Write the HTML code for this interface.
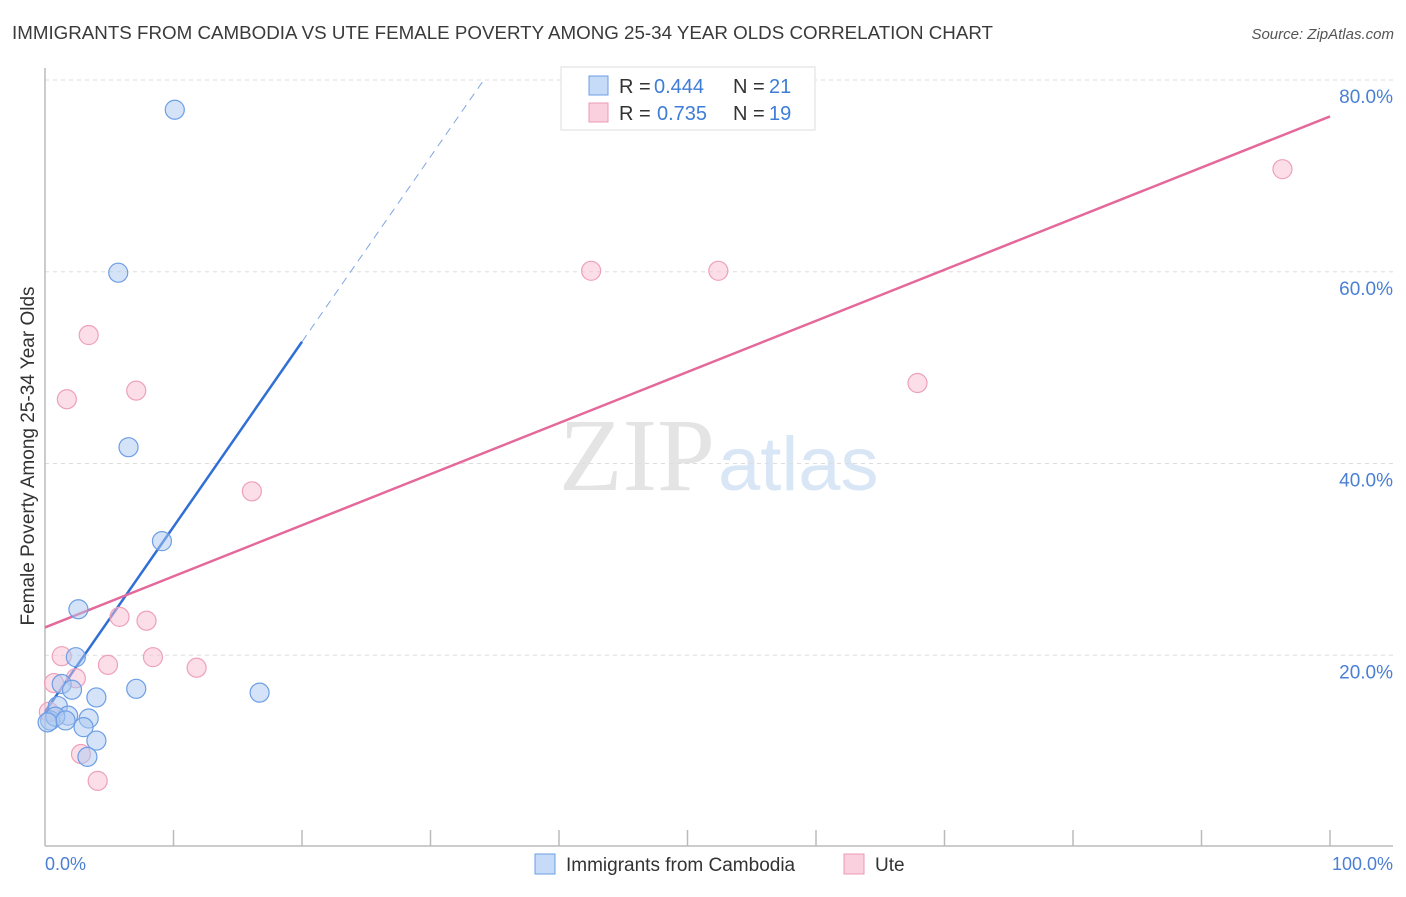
<!DOCTYPE html>
<html><head><meta charset="utf-8"><style>
body{margin:0;background:#fff;font-family:"Liberation Sans",sans-serif}
</style></head><body>
<svg width="1406" height="892" xmlns="http://www.w3.org/2000/svg" font-family="Liberation Sans, sans-serif">
<text x="12" y="39" font-size="18" fill="#3a3a3a" textLength="981" lengthAdjust="spacingAndGlyphs">IMMIGRANTS FROM CAMBODIA VS UTE FEMALE POVERTY AMONG 25-34 YEAR OLDS CORRELATION CHART</text>
<text x="1394" y="39" font-size="15" fill="#555" font-style="italic" text-anchor="end">Source: ZipAtlas.com</text>
<text x="715" y="490" font-size="104" fill="#e4e4e4" text-anchor="end" font-family="Liberation Serif, serif">ZIP</text>
<text x="718" y="490" font-size="76" fill="#d8e6f6">atlas</text>
<g id="grid"></g>
<g id="axes"></g>
<g id="lines"></g>
<g id="pts"></g>
<text transform="translate(34,456) rotate(-90)" font-size="19" fill="#333" text-anchor="middle">Female Poverty Among 25-34 Year Olds</text>
<text x="45" y="870" font-size="18" fill="#4a7fd4">0.0%</text>
<text x="1393" y="870" font-size="18" fill="#4a7fd4" text-anchor="end">100.0%</text>
<g>
<rect x="561" y="67" width="254" height="63" fill="#fff" stroke="#ddd"/>
<rect x="589" y="76" width="19" height="19" fill="#c5dbf7" stroke="#6d9ee6"/>
<rect x="589" y="103" width="19" height="19" fill="#fbd0de" stroke="#ee99b6"/>
<text x="619" y="93" font-size="20" fill="#333">R =</text>
<text x="654" y="93" font-size="20" fill="#3d7dd8">0.444</text>
<text x="733" y="93" font-size="20" fill="#333">N =</text>
<text x="769" y="93" font-size="20" fill="#3d7dd8">21</text>
<text x="619" y="120" font-size="20" fill="#333">R =</text>
<text x="657" y="120" font-size="20" fill="#3d7dd8">0.735</text>
<text x="733" y="120" font-size="20" fill="#333">N =</text>
<text x="769" y="120" font-size="20" fill="#3d7dd8">19</text>
</g>
<g>
<rect x="535" y="854" width="20" height="20" fill="#c5dbf7" stroke="#6d9ee6"/>
<text x="566" y="871" font-size="19" fill="#333">Immigrants from Cambodia</text>
<rect x="844" y="854" width="20" height="20" fill="#fbd0de" stroke="#ee99b6"/>
<text x="875" y="871" font-size="19" fill="#333">Ute</text>
</g>
</svg>
<script>
const yTicks=[20,40,60,80];
const yTickLabels=["20.0%","40.0%","60.0%","80.0%"];
const blueX=[10.1,5.7,6.5,9.1,2.6,2.4,1.3,2.1,4.0,7.1,16.7,1.0,1.8,3.4,0.4,0.8,0.2,3.0,4.0,3.3,1.6];
const blueY=[76.9,59.9,41.7,31.9,24.8,19.8,17.0,16.4,15.6,16.5,16.1,14.7,13.7,13.4,13.2,13.6,13.0,12.5,11.1,9.4,13.2];
const pinkX=[96.3,42.5,52.4,67.9,3.4,1.7,7.1,16.1,5.8,7.9,1.3,8.4,4.9,11.8,0.7,2.4,0.3,2.8,4.1];
const pinkY=[70.7,60.1,60.1,48.4,53.4,46.7,47.6,37.1,24.0,23.6,19.9,19.8,19.0,18.7,17.1,17.6,14.1,9.7,6.9];
const blueLine=[14.1,1.93]; // intercept, slope
const pinkLine=[22.9,0.533];
const NS="http://www.w3.org/2000/svg";
const X=v=>45+12.85*v, Y=v=>847-9.5875*v;
function mk(p,t,a){const e=document.createElementNS(NS,t);for(const k in a)e.setAttribute(k,a[k]);document.getElementById(p).appendChild(e);return e;}
yTicks.forEach((t,i)=>{
 const g=mk('grid','line',{x1:45,x2:1393,y1:Y(t),y2:Y(t),stroke:'#ddd','stroke-dasharray':'4,4'});
 
 
 const l=mk('grid','text',{x:1393,y:Y(t)+23,'font-size':19,fill:'#4a7fd4','text-anchor':'end'});
 l.textContent=yTickLabels[i];
 
 
});
const ax=mk('axes','line',{x1:45,x2:45,y1:68,y2:846,stroke:'#bbb','stroke-width':1.5});


const bx=mk('axes','line',{x1:45,x2:1393,y1:846,y2:846,stroke:'#bbb','stroke-width':1.5});


for(let i=1;i<=10;i++){const t=mk('axes','line',{x1:X(i*10),x2:X(i*10),y1:830,y2:846,stroke:'#bbb','stroke-width':1.5});
 
 }
const bxEnd=(80-blueLine[0])/blueLine[1];
let e=mk('lines','line',{x1:X(0),y1:Y(blueLine[0]),x2:X(20),y2:Y(blueLine[0]+20*blueLine[1]),stroke:'#2f6fd6','stroke-width':2.5});


e=mk('lines','line',{x1:X(20),y1:Y(blueLine[0]+20*blueLine[1]),x2:X(bxEnd),y2:Y(80),stroke:'#7fa6e0','stroke-width':1,'stroke-dasharray':'8,6'});


e=mk('lines','line',{x1:X(0),y1:Y(pinkLine[0]),x2:X(100),y2:Y(pinkLine[0]+100*pinkLine[1]),stroke:'#e4699a','stroke-width':2.5});


pinkX.forEach((v,i)=>{const c=mk('pts','circle',{cx:X(v),cy:Y(pinkY[i]),r:9.5,fill:'rgba(248,190,210,0.5)',stroke:'#eea0bb','stroke-width':1.2});
 
 });
blueX.forEach((v,i)=>{const c=mk('pts','circle',{cx:X(v),cy:Y(blueY[i]),r:9.5,fill:'rgba(170,200,240,0.5)',stroke:'#6d9ee6','stroke-width':1.2});
 
 });
</script>
</body></html>
